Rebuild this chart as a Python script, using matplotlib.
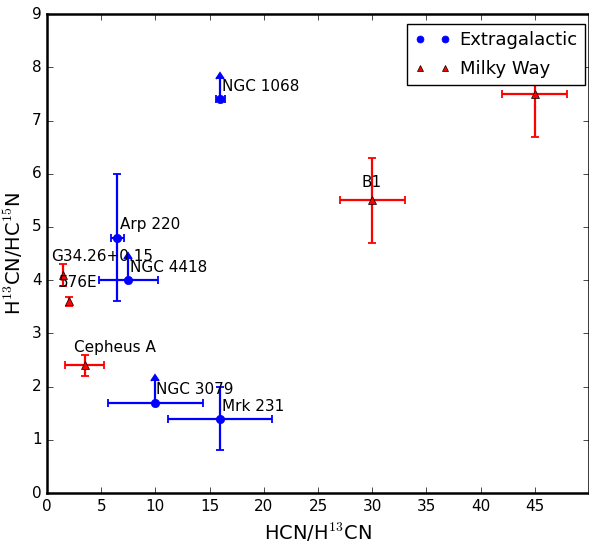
import numpy as np
import matplotlib
matplotlib.use("Agg")
import matplotlib.pyplot as plt

plt.style.use("classic")

# extragalattiche
ext_names = ["NGC 1068", "Arp 220", "NGC 4418", "NGC 3079", "Mrk 231"]
ext_x = [16.0, 6.5, 7.5, 10.0, 16.0]
ext_y = [7.4, 4.8, 4.0, 1.7, 1.4]
ext_xerr = [0.4, 0.6, 2.7, 4.4, 4.8]
ext_yerr = [0.38, 1.2, 0.4, 0.4, 0.6]
ext_lolim = [True, False, True, True, False]

# via lattea
mw_names = ["G34.26+0.15", "576E", "Cepheus A", "B1", ""]
mw_x = [1.5, 2.0, 3.5, 30.0, 45.0]
mw_y = [4.1, 3.6, 2.4, 5.5, 7.5]
mw_xerr = [0.0, 0.0, 1.8, 3.0, 3.0]
mw_yerr = [0.2, 0.08, 0.2, 0.8, 0.8]

# posizione etichette
ext_lab = [(16.1, 7.55), (6.75, 4.97), (7.7, 4.15), (10.1, 1.86), (16.15, 1.55)]
mw_lab = [(0.4, 4.36), (1.1, 3.87), (2.5, 2.65), (29.0, 5.75), None]

fig = plt.figure(figsize=(5.89, 5.43), dpi=100, facecolor="white")
ax = fig.add_axes([0.0798, 0.092, 0.9202, 0.882])

for i in range(len(ext_x)):
    ax.errorbar(ext_x[i], ext_y[i], xerr=ext_xerr[i],
                yerr=ext_yerr[i] if not ext_lolim[i] else [[0], [ext_yerr[i]]],
                lolims=ext_lolim[i], fmt="o", color="b", ecolor="b",
                mec="b", ms=6, elinewidth=1.6, capsize=3, capthick=1.3)
    ax.text(ext_lab[i][0], ext_lab[i][1], ext_names[i], fontsize=11)

for i in range(len(mw_x)):
    ax.errorbar(mw_x[i], mw_y[i], xerr=mw_xerr[i] if mw_xerr[i] > 0 else None,
                yerr=mw_yerr[i], fmt="^", color="r", ecolor="r",
                mec="k", ms=6, elinewidth=1.6, capsize=3, capthick=1.3)
    if mw_lab[i] is not None:
        ax.text(mw_lab[i][0], mw_lab[i][1], mw_names[i], fontsize=11)

# legenda solo con i marker
h1, = ax.plot([], [], "o", color="b", mec="b", ms=5, label="Extragalactic")
h2, = ax.plot([], [], "^", color="r", mec="k", ms=5, label="Milky Way")

ax.set_xlim(0, 50)
ax.set_ylim(0, 9)
ax.set_xticks(np.arange(0, 50, 5))
ax.set_yticks(np.arange(0, 10, 1))
ax.tick_params(labelsize=11)
ax.set_xlabel("HCN/H$^{13}$CN", fontsize=14)
ax.set_ylabel("H$^{13}$CN/HC$^{15}$N", fontsize=14)
for s in ax.spines.values():
    s.set_linewidth(1.8)

leg = ax.legend(handles=[h1, h2], loc="upper right", numpoints=2, fontsize=13,
                fancybox=False, borderaxespad=0, bbox_to_anchor=(0.9926, 0.979),
                handletextpad=0.5, labelspacing=0.6)
leg.get_frame().set_linewidth(1.0)

fig.savefig("out.png", dpi=100, facecolor="white")
